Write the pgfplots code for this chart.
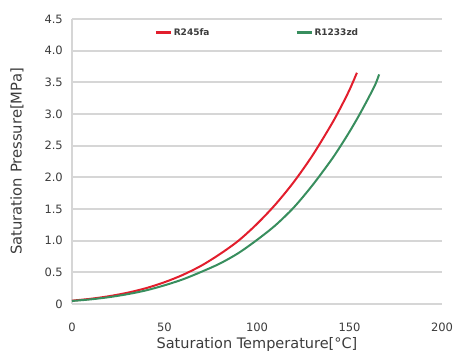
\documentclass[border=0pt]{standalone}
\usepackage{pgfplots}
\pgfplotsset{compat=1.18}
\usepackage{fontspec}
\setmainfont{DejaVu Sans}
\definecolor{cred}{RGB}{226,30,45}
\definecolor{cgreen}{RGB}{56,142,94}
\definecolor{cgrid}{RGB}{214,214,214}
\definecolor{ctext}{RGB}{60,60,60}
\pgfplotstableread{
T P
0 0.053
10 0.082
20 0.123
30 0.178
40 0.250
50 0.344
60 0.461
70 0.607
80 0.789
90 1.000
100 1.265
110 1.573
120 1.931
130 2.346
140 2.824
145 3.090
150 3.381
154 3.651
}\rA
\pgfplotstableread{
T P
0 0.048
10 0.073
20 0.108
30 0.155
40 0.215
50 0.295
60 0.390
70 0.509
80 0.640
90 0.805
100 1.012
110 1.244
120 1.528
130 1.876
140 2.268
145 2.487
150 2.720
155 2.970
160 3.240
164 3.470
166 3.625
}\rB
\begin{document}
\begin{tikzpicture}
\begin{axis}[
  scale only axis,
  width=370pt, height=285pt,
  xmin=0, xmax=200, ymin=0, ymax=4.5,
  xtick={0,50,...,200}, ytick={0,0.5,...,4.5},
  yticklabels={0,0.5,1.0,1.5,2.0,2.5,3.0,3.5,4.0,4.5},
  axis line style={draw=none},
  major tick length=0pt,
  ymajorgrids,
  grid style={cgrid, line width=2pt},
  tick label style={font=\fontsize{11.5}{13}\selectfont, text=ctext},
  /pgf/number format/assume math mode=true,
  xticklabel style={anchor=center, inner sep=0pt, yshift=-23pt},
  yticklabel style={anchor=east, inner sep=0pt, xshift=-9pt},
  xlabel={Saturation Temperature[°C]},
  ylabel={Saturation Pressure[MPa]},
  every axis x label/.style={at={(axis description cs:0.5,0)}, anchor=center, yshift=-40pt,
    font=\fontsize{14.5}{16}\selectfont, text=ctext},
  every axis y label/.style={at={(axis description cs:-0.1486,0.5)}, anchor=center, rotate=90,
    font=\fontsize{14.8}{16}\selectfont, text=ctext},
  legend columns=2,
  legend style={draw=none, fill=none, at={(0.5,0.951)}, anchor=center,
    font=\fontsize{9}{10}\selectfont\bfseries, text=ctext,
    nodes={inner sep=1.5pt},
    /tikz/every even column/.append style={column sep=84pt}},
  legend image code/.code={\draw[#1, line width=3pt] (0pt,0pt) -- (15pt,0pt);},
  clip=false,
]
\coordinate (LL) at (rel axis cs:0,0);
\coordinate (UR) at (rel axis cs:1,1);
\draw[cgrid, line width=2pt] (axis cs:0,0) -- (axis cs:0,4.5);
\addplot[cred, line width=2pt, smooth] table[x=T,y=P] {\rA};
\addlegendentry{R245fa}
\addplot[cgreen, line width=2pt, smooth] table[x=T,y=P] {\rB};
\addlegendentry{R1233zd}
\end{axis}
\pgfresetboundingbox
\path[use as bounding box] ([shift={(-72pt,-50pt)}]LL) rectangle ([shift={(12pt,19pt)}]UR);
\end{tikzpicture}
\end{document}
